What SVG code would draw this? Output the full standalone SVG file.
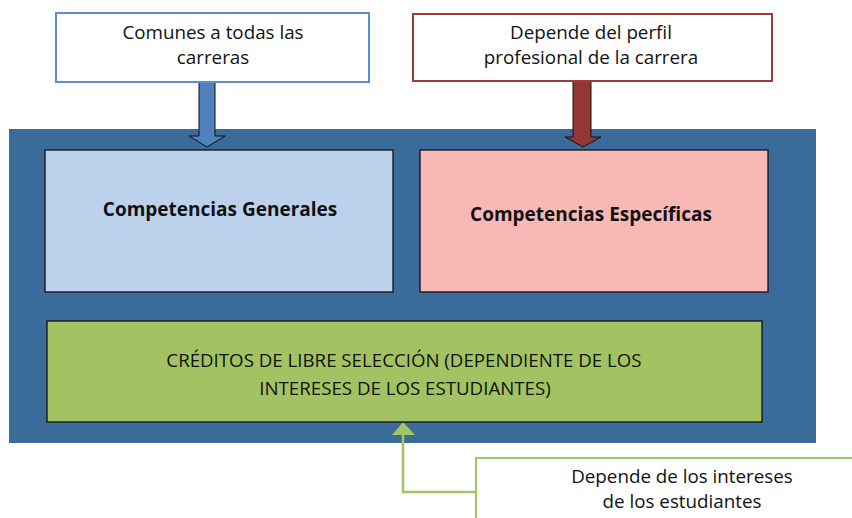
<svg xmlns="http://www.w3.org/2000/svg" width="852" height="518" viewBox="0 0 852 518">
<style>
text{font-family:"Open Sans","Noto Sans","Liberation Sans",sans-serif;fill:#111;text-anchor:middle}
.t{font-size:18.8px}
.b{font-size:19px;font-weight:bold}
.c{font-size:18.7px}
.inner{stroke:#111;stroke-width:1.3}
</style>
<rect x="9" y="129" width="807" height="314" fill="#3B6B9A"/>
<g id="connectors">
<path d="M199,82 V136 H189 L207,147 L225,136 H215 V82 Z" fill="#4F81BD" stroke="#111" stroke-width="1"/>
<path d="M573,81 V137 H565 L583,147 L601,137 H591 V81 Z" fill="#943634" stroke="#111" stroke-width="1"/>
<polyline points="476,492 403,492 403,433" fill="none" stroke="#A2C463" stroke-width="2.5"/>
<polygon points="403,422 392,435 415,435" fill="#A2C463"/>
</g>
<g id="comunes">
<rect x="56" y="13" width="313" height="69" fill="#fff" stroke="#5B8FCB" stroke-width="2"/>
<text class="t" x="213" y="39">Comunes a todas las</text>
<text class="t" x="213" y="64">carreras</text>
</g>
<g id="perfil">
<rect x="413" y="14" width="359" height="67" fill="#fff" stroke="#9B3B3B" stroke-width="2"/>
<text class="t" x="591" y="39">Depende del perfil</text>
<text class="t" x="591" y="64">profesional de la carrera</text>
</g>
<g id="generales">
<rect x="45" y="150" width="348" height="142" fill="#BBD1EC" class="inner"/>
<text class="b" x="220" y="216">Competencias Generales</text>
</g>
<g id="especificas">
<rect x="420" y="150" width="348" height="142" fill="#F8B8B6" class="inner"/>
<text class="b" x="591" y="221">Competencias Específicas</text>
</g>
<g id="creditos">
<rect x="47" y="321" width="715" height="101" fill="#A3C363" class="inner"/>
<text class="c" x="404" y="367">CRÉDITOS DE LIBRE SELECCIÓN (DEPENDIENTE DE LOS</text>
<text class="c" x="405" y="395">INTERESES DE LOS ESTUDIANTES)</text>
</g>
<g id="intereses">
<rect x="476" y="458" width="400" height="80" fill="#fff" stroke="#A2C463" stroke-width="2"/>
<text class="t" x="682" y="483">Depende de los intereses</text>
<text class="t" x="682" y="508">de los estudiantes</text>
</g>
</svg>
